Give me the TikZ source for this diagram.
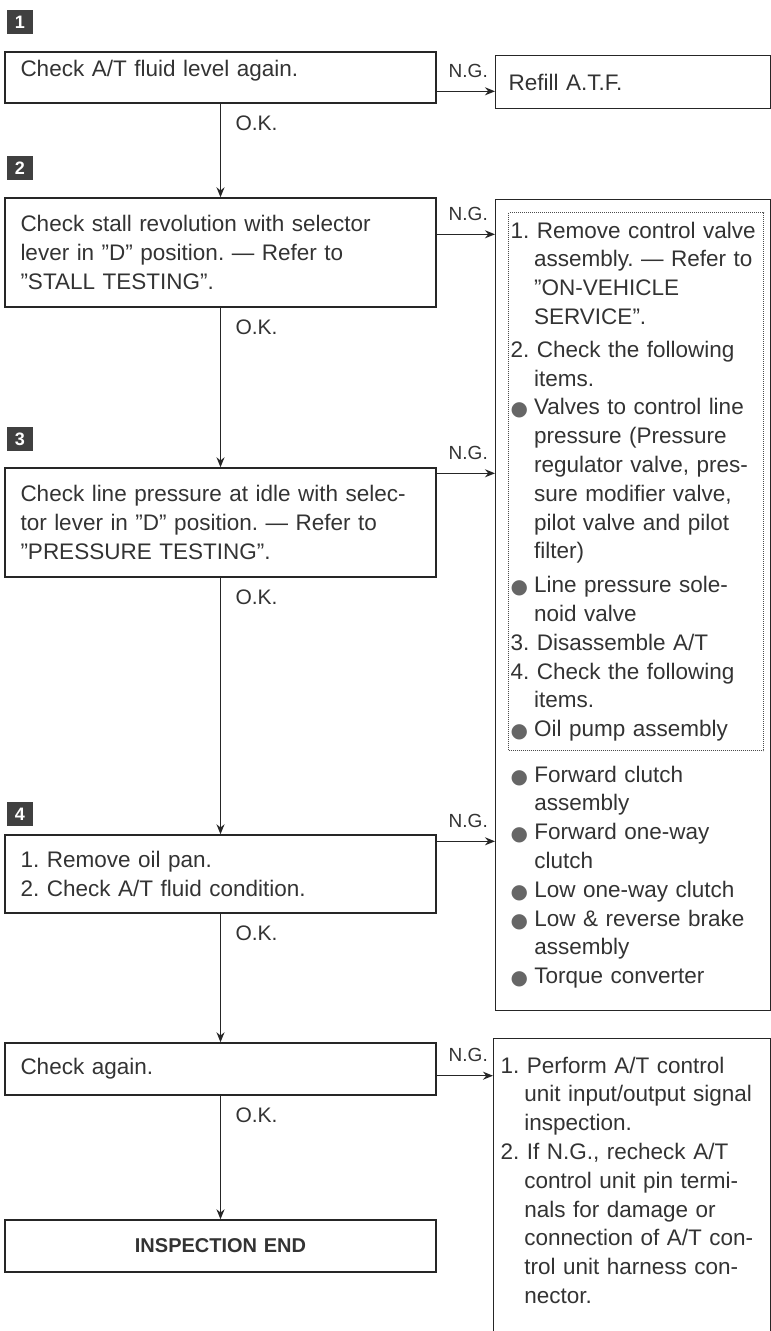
\documentclass[tikz,border=0pt]{standalone}
\usepackage{fontspec}
\setmainfont{Liberation Sans}
\newfontfamily\dotfont{DejaVu Sans}
\usetikzlibrary{arrows.meta}
\frenchspacing

\newcommand{\itemdot}{\makebox[1.05em][l]{\raisebox{-1pt}{\fontsize{20}{20}\selectfont\dotfont\color{black!60}●}}}
\newcommand{\hangin}{\hspace*{1.05em}}
\newcommand{\dq}{\symbol{34}}

\begin{document}
\begin{tikzpicture}[x=1pt, y=-1pt, line width=1.4pt,
  every node/.style={font=\fontsize{22.5}{28.8}\selectfont, text=black!80},
  chkbox/.style={draw=black!85, text width=400pt, inner xsep=15.5pt, align=left},
  fixbox/.style={draw=black!85, minimum width=275pt, anchor=north west},
  stepmark/.style={fill=black!75, text=white, font=\bfseries\fontsize{18}{18}\selectfont,
    minimum width=26pt, minimum height=24pt, inner sep=0pt},
  oklabel/.style={anchor=west, font=\fontsize{21}{21}\selectfont},
  nglabel/.style={anchor=south west, font=\fontsize{19}{19}\selectfont},
  okline/.style={draw=black!85, -{Stealth[length=10pt,width=8pt]}},
  ngline/.style={draw=black!85, -{Stealth[length=10pt,width=8pt]}}]

\useasboundingbox (0,0) rectangle (771,1331);
\clip (0,0) rectangle (771,1331);

% --- Step 1 ---
\node[stepmark] (m1) at (20,22) {1};
\node[chkbox, minimum height=51pt, text depth=18pt] (chk1) at (220.5,77.5) {Check A/T fluid level again.};
\node[fixbox, minimum height=53pt, text width=249pt, inner xsep=13pt, align=left] (refill) at (495,55) {Refill A.T.F.};
\coordinate (ng1) at ([yshift=-40pt]chk1.north east);
\draw[ngline] (ng1) -- (ng1 -| refill.west);
\node[nglabel] (ngl1) at ([xshift=8pt,yshift=10pt]ng1) {N.G.};
\node[oklabel] (ok1) at ([xshift=11pt,yshift=-20pt]chk1.south) {O.K.};

% --- Step 2 ---
\node[stepmark] (m2) at (20,168) {2};
\node[chkbox, minimum height=109pt] (chk2) at (220.5,252.5) {Check stall revolution with selector\\
lever in \dq D\dq\ position. — Refer to\\
\dq STALL TESTING\dq .};
\draw[okline] (chk1) -- (chk2);
\node[oklabel] (ok2) at ([xshift=11pt,yshift=-20pt]chk2.south) {O.K.};

% --- repair box (steps 2 to 4) ---
\node[fixbox, minimum height=811pt] (repair) at (495,199) {};
\node[draw=black!70, line width=1pt, densely dotted, anchor=north west, minimum height=538pt,
  text width=251pt, inner xsep=2pt, align=left] (steps) at (508,212) {1. Remove control valve\\
\hangin assembly. — Refer to\\
\hangin \dq ON-VEHICLE\\
\hangin SERVICE\dq .\\[4pt]
2. Check the following\\
\hangin items.\\
\itemdot Valves to control line\\
\hangin pressure (Pressure\\
\hangin regulator valve, pres-\\
\hangin sure modifier valve,\\
\hangin pilot valve and pilot\\
\hangin filter)\\[5pt]
\itemdot Line pressure sole-\\
\hangin noid valve\\
3. Disassemble A/T\\
4. Check the following\\
\hangin items.\\
\itemdot Oil pump assembly};
\node[anchor=north west, text width=250pt, inner sep=0pt, align=left] (parts) at (510,765) {\itemdot Forward clutch\\
\hangin assembly\\
\itemdot Forward one-way\\
\hangin clutch\\
\itemdot Low one-way clutch\\
\itemdot Low \& reverse brake\\
\hangin assembly\\
\itemdot Torque converter};
\coordinate (ng2) at ([yshift=-37pt]chk2.north east);
\draw[ngline] (ng2) -- (ng2 -| repair.west);
\node[nglabel] (ngl2) at ([xshift=8pt,yshift=10pt]ng2) {N.G.};

% --- Step 3 ---
\node[stepmark] (m3) at (20,439) {3};
\node[chkbox, minimum height=109pt] (chk3) at (220.5,522.5) {Check line pressure at idle with selec-\\
tor lever in \dq D\dq\ position. — Refer to\\
\dq PRESSURE TESTING\dq .};
\draw[okline] (chk2) -- (chk3);
\node[oklabel] (ok3) at ([xshift=11pt,yshift=-20pt]chk3.south) {O.K.};
\coordinate (ng3) at ([yshift=-6pt]chk3.north east);
\draw[ngline] (ng3) -- (ng3 -| repair.west);
\node[nglabel] (ngl3) at ([xshift=8pt,yshift=10pt]ng3) {N.G.};

% --- Step 4 ---
\node[stepmark] (m4) at (20,814) {4};
\node[chkbox, minimum height=78pt] (chk4) at (220.5,874) {1. Remove oil pan.\\
2. Check A/T fluid condition.};
\draw[okline] (chk3) -- (chk4);
\node[oklabel] (ok4) at ([xshift=11pt,yshift=-20pt]chk4.south) {O.K.};
\coordinate (ng4) at ([yshift=-7pt]chk4.north east);
\draw[ngline] (ng4) -- (ng4 -| repair.west);
\node[nglabel] (ngl4) at ([xshift=8pt,yshift=10pt]ng4) {N.G.};

% --- Check again ---
\node[chkbox, minimum height=52pt] (chk5) at (220.5,1069) {Check again.};
\draw[okline] (chk4) -- (chk5);
\node[oklabel] (ok5) at ([xshift=11pt,yshift=-20pt]chk5.south) {O.K.};
\node[fixbox, minimum width=277pt, minimum height=330pt] (recheck) at (493,1038) {};
\node[anchor=north west, text width=262pt, inner sep=0pt, align=left] (sigtext) at (500,1056) {1. Perform A/T control\\
\hangin unit input/output signal\\
\hangin inspection.\\
2. If N.G., recheck A/T\\
\hangin control unit pin termi-\\
\hangin nals for damage or\\
\hangin connection of A/T con-\\
\hangin trol unit harness con-\\
\hangin nector.};
\coordinate (ng5) at ([yshift=20pt]chk5.south east);
\draw[ngline] (ng5) -- (ng5 -| recheck.west);
\node[nglabel] (ngl5) at ([xshift=8pt,yshift=10pt]ng5) {N.G.};

% --- End ---
\node[chkbox, minimum height=52pt, align=center, font=\bfseries\fontsize{20}{20}\selectfont] (chk6) at (220.5,1246) {INSPECTION END};
\draw[okline] (chk5) -- (chk6);

\end{tikzpicture}
\end{document}
